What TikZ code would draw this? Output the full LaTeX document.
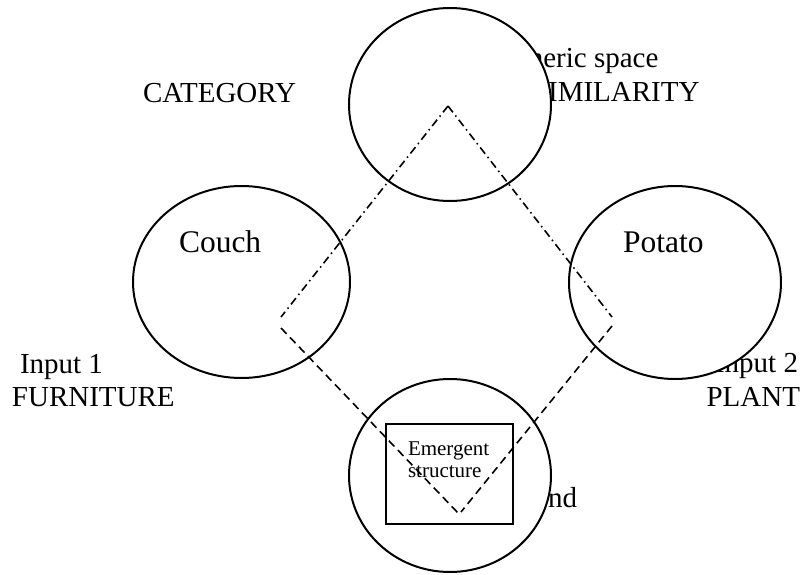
\documentclass[tikz,border=0pt]{standalone}
\usepackage{fontspec}
\setmainfont{Liberation Serif}
\usetikzlibrary{shapes.geometric}
\begin{document}
\begin{tikzpicture}[x=1pt,y=-1pt,
  txt/.style={font=\fontsize{29}{34}\selectfont, inner sep=0pt, outer sep=0pt},
  bigtxt/.style={font=\fontsize{31.5}{36}\selectfont, inner sep=0pt, outer sep=0pt},
  smalltxt/.style={font=\fontsize{21}{24}\selectfont, inner sep=0pt, outer sep=0pt},
  space/.style={ellipse, draw, line width=2pt, fill=white, inner sep=0pt},
  upperlink/.style={line width=1.6pt, dash pattern=on 8pt off 4pt on 1.5pt off 4pt},
  lowerlink/.style={line width=1.6pt, dash pattern=on 8pt off 5pt}]
\useasboundingbox (0,0) rectangle (804,575);

% captions, partly covered by the spaces drawn afterwards
\node[txt, anchor=base west] (generic) at (495,68) {Generic space};
\node[txt, anchor=base west] (similar) at (532,102) {SIMILARITY};
\node[txt, anchor=base west] (cat) at (143,103) {CATEGORY};
\node[txt, anchor=base west] (in1) at (20,373) {Input 1};
\node[txt, anchor=base west] (furn) at (12,406) {FURNITURE};
\node[txt, anchor=base east] (in2) at (798,372) {Input 2};
\node[txt, anchor=base east] (plant) at (800,406) {PLANT};
\node[txt, anchor=base east] (blendlbl) at (577,507) {Blend};

% the four mental spaces
\node[space, minimum width=202pt, minimum height=193pt] (gen) at (450,104.5) {};
\node[space, minimum width=217pt, minimum height=192pt] (input1) at (241.5,282) {};
\node[space, minimum width=212pt, minimum height=193pt] (input2) at (675,282.5) {};
\node[space, minimum width=202pt, minimum height=193pt] (blend) at (450,475.5) {};

\node[bigtxt, anchor=base west] (couch) at (179,252) {Couch};
\node[bigtxt, anchor=base west] (potato) at (623,252) {Potato};

% emergent structure box inside the blend
\node[draw, line width=2pt, fill=white, minimum width=127pt, minimum height=100pt, inner sep=0pt] (emerg) at (449.5,474) {};
\node[smalltxt, anchor=base west] (em1) at (408,455) {Emergent};
\node[smalltxt, anchor=base west] (em2) at (408,477) {structure};

% projection lines
\coordinate (ptop) at (448,106);
\coordinate (pleftA) at (281,317);
\coordinate (pleftB) at (281,328);
\coordinate (prightA) at (612,317);
\coordinate (prightB) at (612,326);
\coordinate (pbotA) at (459,514);
\coordinate (pbotB) at (461,512);

\draw[upperlink] (ptop) -- (pleftA);
\draw[upperlink] (ptop) -- (prightA);
\draw[lowerlink] (pleftB) -- (pbotA);
\draw[lowerlink] (prightB) -- (pbotB);
\end{tikzpicture}
\end{document}
